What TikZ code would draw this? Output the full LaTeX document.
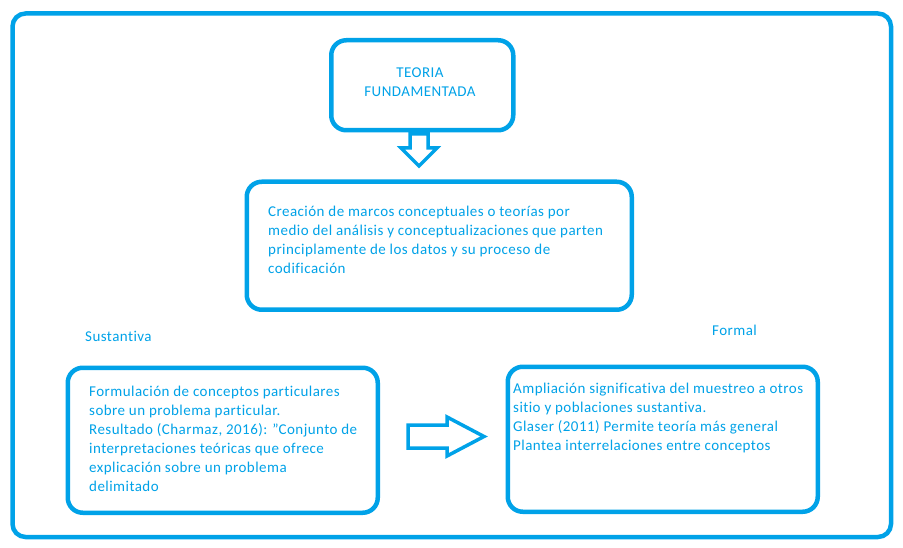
\documentclass[tikz,border=0pt]{standalone}
\usepackage{fontspec}
\setmainfont{Carlito}[LetterSpace=3,Ligatures={NoCommon}]
\definecolor{paintblue}{RGB}{0,162,232}
\begin{document}
\begin{tikzpicture}[x=1pt,y=-1pt,
  box/.style={draw=paintblue,line width=4.5pt,rounded corners=15pt,fill=white},
  txt/.style={text=paintblue,inner sep=0pt,anchor=north west,align=left,font=\fontsize{15}{19}\selectfont},
  blockarrow/.style={draw=paintblue,line width=3.5pt,line join=miter,fill=white}]
\useasboundingbox (0,0) rectangle (903,548);
% outer frame
\draw[draw=paintblue,line width=4.5pt,rounded corners=13pt] (12.5,13.5) rectangle (891,537);
% boxes
\node[box,minimum width=182pt,minimum height=90pt,anchor=north west] (top) at (329,38) {};
\node[box,minimum width=385pt,minimum height=128pt,anchor=north west] (mid) at (244.5,179.5) {};
\node[box,minimum width=310pt,minimum height=145pt,anchor=north west] (left) at (65.5,365.5) {};
\node[box,minimum width=310pt,minimum height=145pt,anchor=north west] (right) at (505.5,364.5) {};
% texts
\node[txt,align=center,anchor=north] (toptxt) at (420,63.7) {\strut TEORIA\\FUNDAMENTADA};
\node[txt] (midtxt) at (268,202.7) {\strut Creación de marcos conceptuales o teorías por\\medio del análisis y conceptualizaciones que parten\\principlamente de los datos y su proceso de\\codificación};
\node[txt] (lefttxt) at (89,382.7) {\strut Formulación de conceptos particulares\\sobre un problema particular.\\Resultado (Charmaz, 2016): \symbol{"22}Conjunto de\\interpretaciones teóricas que ofrece\\explicación sobre un problema\\delimitado};
\node[txt] (righttxt) at (513,379.7) {\strut Ampliación significativa del muestreo a otros\\sitio y poblaciones sustantiva.\\Glaser (2011) Permite teoría más general\\Plantea interrelaciones entre conceptos};
\node[txt] (sust) at (85,327.7) {\strut Sustantiva};
\node[txt] (formal) at (712,321.7) {\strut Formal};
% block arrows
\draw[blockarrow] (410,134) -- (428,134) -- (428,148) -- (437,148) -- (419,166) -- (401,148) -- (410,148) -- cycle;
\draw[blockarrow] (408,425) -- (447,425) -- (447,417) -- (484,436.5) -- (447,456) -- (447,448) -- (408,448) -- cycle;
\end{tikzpicture}
\end{document}
